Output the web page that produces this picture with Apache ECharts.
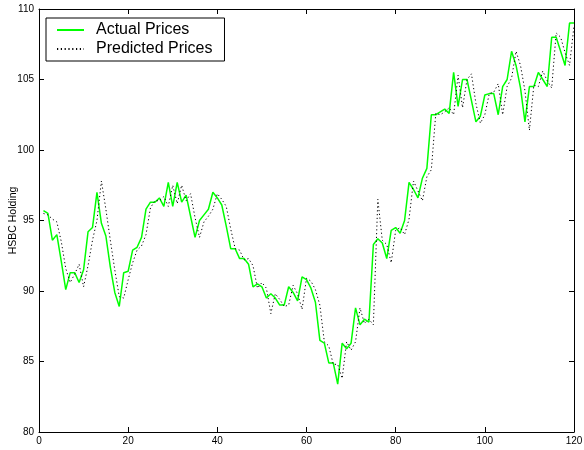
<!DOCTYPE html>
<html>
<head>
<meta charset="utf-8">
<title>HSBC Holding</title>
<script src="https://cdn.jsdelivr.net/npm/echarts@6/dist/echarts.min.js"></script>
<style>
  html, body { margin: 0; padding: 0; background: #fff; }
  #chart { width: 584px; height: 450px; }
</style>
</head>
<body>
<div id="chart"></div>
<script>
// Trading days 1..120
const days = Array.from({ length: 120 }, (_, i) => i + 1);

// Observed closing prices
const actualPrices = [
  95.7, 95.5, 93.6, 94.0, 92.1, 90.1, 91.3, 91.3, 90.6, 91.5,
  94.2, 94.5, 97.0, 94.8, 93.9, 91.7, 89.9, 88.9, 91.3, 91.4,
  92.9, 93.1, 93.8, 95.8, 96.3, 96.3, 96.6, 96.0, 97.7, 96.0,
  97.7, 96.3, 96.8, 95.3, 93.8, 95.0, 95.4, 95.8, 97.0, 96.6,
  96.1, 94.6, 93.0, 93.0, 92.3, 92.3, 91.9, 90.3, 90.5, 90.3,
  89.5, 89.8, 89.5, 89.0, 89.0, 90.3, 89.9, 89.3, 91.0, 90.8,
  90.2, 89.2, 86.5, 86.3, 84.9, 84.9, 83.4, 86.3, 85.9, 86.3,
  88.8, 87.6, 88.0, 87.8, 93.3, 93.7, 93.4, 92.3, 94.3, 94.5,
  94.1, 95.0, 97.7, 97.2, 96.6, 98.0, 98.7, 102.5, 102.5, 102.7,
  102.9, 102.6, 105.5, 103.1, 105.0, 105.0, 103.5, 102.0, 102.4, 103.9,
  104.0, 104.0, 102.5, 104.5, 105.0, 107.0, 106.0, 104.4, 102.0, 104.5,
  104.5, 105.5, 105.0, 104.5, 108.0, 108.0, 107.0, 106.0, 109.0, 109.0
];

// Model output for the same days
const predictedPrices = [
  95.5, 95.4, 95.1, 94.9, 93.5, 91.6, 90.6, 91.2, 91.9, 90.3,
  91.8, 93.6, 95.0, 97.8, 95.8, 93.6, 91.5, 89.6, 89.5, 90.8,
  92.0, 92.9, 93.2, 94.0, 95.9, 96.4, 96.4, 96.7, 96.0, 97.5,
  96.2, 97.5, 96.4, 96.9, 95.2, 93.8, 94.9, 95.3, 95.8, 96.9,
  96.5, 96.0, 94.4, 93.0, 92.9, 92.2, 92.3, 91.8, 90.2, 90.6,
  90.2, 88.4, 89.8, 89.4, 88.9, 89.0, 90.4, 89.8, 88.7, 90.9,
  90.7, 90.1, 89.0, 86.4, 86.1, 84.8, 84.8, 83.8, 86.4, 85.8,
  86.4, 88.8, 87.7, 88.0, 87.6, 96.5, 93.6, 93.3, 92.0, 94.3,
  94.5, 94.0, 95.1, 97.8, 97.1, 96.4, 98.1, 98.6, 102.6, 102.5,
  102.7, 103.0, 102.5, 105.3, 103.0, 105.0, 105.4, 103.3, 101.9, 102.5,
  104.0, 104.1, 104.7, 102.5, 104.5, 105.1, 107.0, 106.0, 104.2, 101.4,
  104.6, 104.5, 105.6, 104.9, 104.4, 108.3, 108.0, 106.9, 106.0, 108.8
];

const seriesNames = ['Actual Prices', 'Predicted Prices'];
const yAxisTitle = 'HSBC Holding';

const FONT = "'Liberation Sans', Arial, Helvetica, sans-serif";

const pairs = (ys) => days.map((d, i) => [d, ys[i]]);

const baseAxis = {
  axisLine: { show: true, onZero: false, lineStyle: { color: '#000', width: 1 } },
  axisTick: { show: true, inside: true, length: 5, lineStyle: { color: '#000' } },
  splitLine: { show: false }
};

const chart = echarts.init(document.getElementById('chart'), null, { renderer: 'canvas' });

chart.setOption({
  animation: false,
  backgroundColor: '#fff',
  textStyle: { fontFamily: FONT },
  grid: { left: 39, right: 10, top: 9, bottom: 18, containLabel: false, outerBoundsMode: 'none' },
  legend: {
    data: seriesNames,
    orient: 'vertical',
    left: 46,
    top: 18,
    padding: [4, 12, 4, 10],
    itemGap: 3,
    itemWidth: 27,
    itemHeight: 19,
    // hide the marker dot; keep only the line sample
    itemStyle: { opacity: 0 },
    backgroundColor: '#fff',
    borderColor: '#000',
    borderWidth: 1,
    textStyle: { fontSize: 16, color: '#000', fontFamily: FONT, padding: [0, 0, 0, 7] }
  },
  xAxis: [
    Object.assign({}, baseAxis, {
      type: 'value', min: 0, max: 120, interval: 20, position: 'bottom',
      axisLabel: { color: '#000', fontSize: 10, margin: 4, fontFamily: FONT }
    }),
    Object.assign({}, baseAxis, {
      type: 'value', min: 0, max: 120, interval: 20, position: 'top',
      axisLabel: { show: false }
    })
  ],
  yAxis: [
    Object.assign({}, baseAxis, {
      type: 'value', min: 80, max: 110, interval: 5, position: 'left',
      name: yAxisTitle, nameLocation: 'middle', nameGap: 20, nameRotate: 90,
      nameMoveOverlap: false,
      nameTextStyle: { color: '#000', fontSize: 10.5, fontFamily: FONT },
      axisLabel: { color: '#000', fontSize: 10, margin: 5, fontFamily: FONT }
    }),
    Object.assign({}, baseAxis, {
      type: 'value', min: 80, max: 110, interval: 5, position: 'right',
      axisLabel: { show: false }
    })
  ],
  series: [
    {
      name: seriesNames[0],
      type: 'line',
      data: pairs(actualPrices),
      showSymbol: false,
      symbol: 'none',
      lineStyle: { color: '#00ff00', width: 1.5 },
      itemStyle: { color: '#00ff00' },
      z: 2
    },
    {
      name: seriesNames[1],
      type: 'line',
      data: pairs(predictedPrices),
      showSymbol: false,
      symbol: 'none',
      lineStyle: { color: '#000', width: 1, type: [1.2, 2.6] },
      itemStyle: { color: '#000' },
      z: 3
    }
  ]
});
</script>
</body>
</html>
